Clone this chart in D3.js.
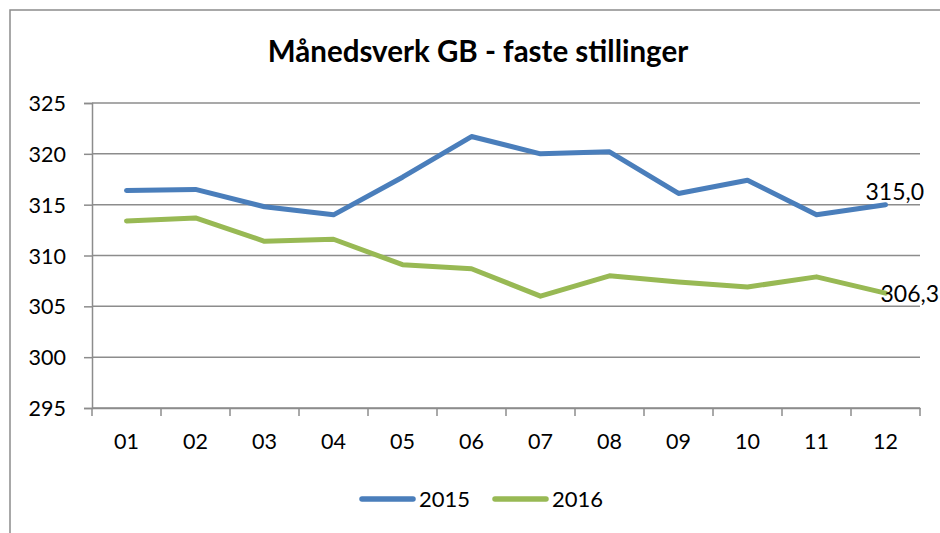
<!DOCTYPE html>
<html>
<head>
<meta charset="utf-8">
<script src="https://cdn.jsdelivr.net/npm/d3@7"></script>
<style>
  body { margin: 0; background: #fff; }
  text { font-family: Lato, "Open Sans", sans-serif; fill: #000; }
</style>
</head>
<body>
<div class="canvas"></div>
<script>
// data
const months = ['01','02','03','04','05','06','07','08','09','10','11','12'];
const series2015 = [316.4, 316.5, 314.8, 314.0, 317.7, 321.7, 320.0, 320.2, 316.1, 317.4, 314.0, 315.0];
const series2016 = [313.4, 313.7, 311.4, 311.6, 309.1, 308.7, 306.0, 308.0, 307.4, 306.9, 307.9, 306.3];
const yTicks = [295, 300, 305, 310, 315, 320, 325];
const seriesNames = ['2015', '2016'];
const colors = ['#4a7ebb', '#98b954'];

const svg = d3.select('.canvas')
  .append('svg')
    .attr('width', 940)
    .attr('height', 533);

// outer frame
svg.append('rect')
  .attr('x', 10).attr('y', 10)
  .attr('width', 1000).attr('height', 600)
  .attr('fill', 'none')
  .attr('stroke', '#8c8c8c')
  .attr('stroke-width', 1.5);

svg.append('text')
  .attr('x', 478).attr('y', 62)
  .attr('text-anchor', 'middle')
  .style('font-size', '29.5px')
  .style('font-weight', 'bold')
  .text('Månedsverk GB - faste stillinger');

const margin = {top: 103, left: 92};
const graphWidth = 828;
const graphHeight = 305;

const graph = svg.append('g')
  .attr('transform', `translate(${margin.left},${margin.top})`);

const x = d3.scaleBand()
  .domain(months)
  .range([0, graphWidth]);

const y = d3.scaleLinear()
  .domain([295, 325])
  .range([graphHeight, 0]);

// gridlines
graph.selectAll('line.grid')
  .data(yTicks)
  .enter()
  .append('line')
    .attr('class', 'grid')
    .attr('x1', 0).attr('x2', graphWidth)
    .attr('y1', d => y(d)).attr('y2', d => y(d))
    .attr('stroke', '#8c8c8c')
    .attr('stroke-width', 1.5);

// y axis
const yAxis = d3.axisLeft(y).tickValues(yTicks).tickSize(8).tickPadding(18);
const yG = graph.append('g').call(yAxis);
yG.select('.domain').attr('stroke', '#8c8c8c').attr('stroke-width', 1.5);
yG.selectAll('.tick line').attr('stroke', '#8c8c8c').attr('stroke-width', 1.5);
yG.selectAll('.tick text').style('font-size', '21.5px').attr('dy', '0.35em');

// x axis with tick marks at band edges
const xAxis = d3.axisBottom(x).tickSize(0).tickPadding(26);
const xG = graph.append('g')
  .attr('transform', `translate(0,${graphHeight})`)
  .call(xAxis);
xG.select('.domain').attr('stroke', '#8c8c8c').attr('stroke-width', 1.5);
xG.selectAll('.tick text').style('font-size', '21.5px').attr('dy', '0.71em');

const edges = months.map(m => x(m)).concat([graphWidth]);
xG.selectAll('line.edge')
  .data(edges)
  .enter()
  .append('line')
    .attr('class', 'edge')
    .attr('x1', d => d).attr('x2', d => d)
    .attr('y1', 0).attr('y2', 8)
    .attr('stroke', '#8c8c8c')
    .attr('stroke-width', 1.5);

// lines
const line = d3.line()
  .x((d, i) => x(months[i]) + x.bandwidth() / 2)
  .y(d => y(d));

[series2015, series2016].forEach((s, k) => {
  graph.append('path')
    .datum(s)
    .attr('d', line)
    .attr('fill', 'none')
    .attr('stroke', colors[k])
    .attr('stroke-width', 5)
    .attr('stroke-linejoin', 'round')
    .attr('stroke-linecap', 'round');
});

// end labels
const lastX = x(months[11]) + x.bandwidth() / 2;
graph.append('text')
  .attr('x', lastX - 20)
  .attr('y', y(series2015[11]) - 5)
  .style('font-size', '23px')
  .text(d3.format('.1f')(series2015[11]).replace('.', ','));
graph.append('text')
  .attr('x', lastX - 5)
  .attr('y', y(series2016[11]) + 9)
  .style('font-size', '23px')
  .text(d3.format('.1f')(series2016[11]).replace('.', ','));

// legend
const legend = svg.append('g');
const legendX = [360, 493];
seriesNames.forEach((name, k) => {
  legend.append('line')
    .attr('x1', legendX[k] + 2).attr('x2', legendX[k] + 53)
    .attr('y1', 499).attr('y2', 499)
    .attr('stroke', colors[k])
    .attr('stroke-width', 5.5)
    .attr('stroke-linecap', 'round');
  legend.append('text')
    .attr('x', legendX[k] + 59)
    .attr('y', 507)
    .style('font-size', '22px')
    .text(name);
});
</script>
</body>
</html>
